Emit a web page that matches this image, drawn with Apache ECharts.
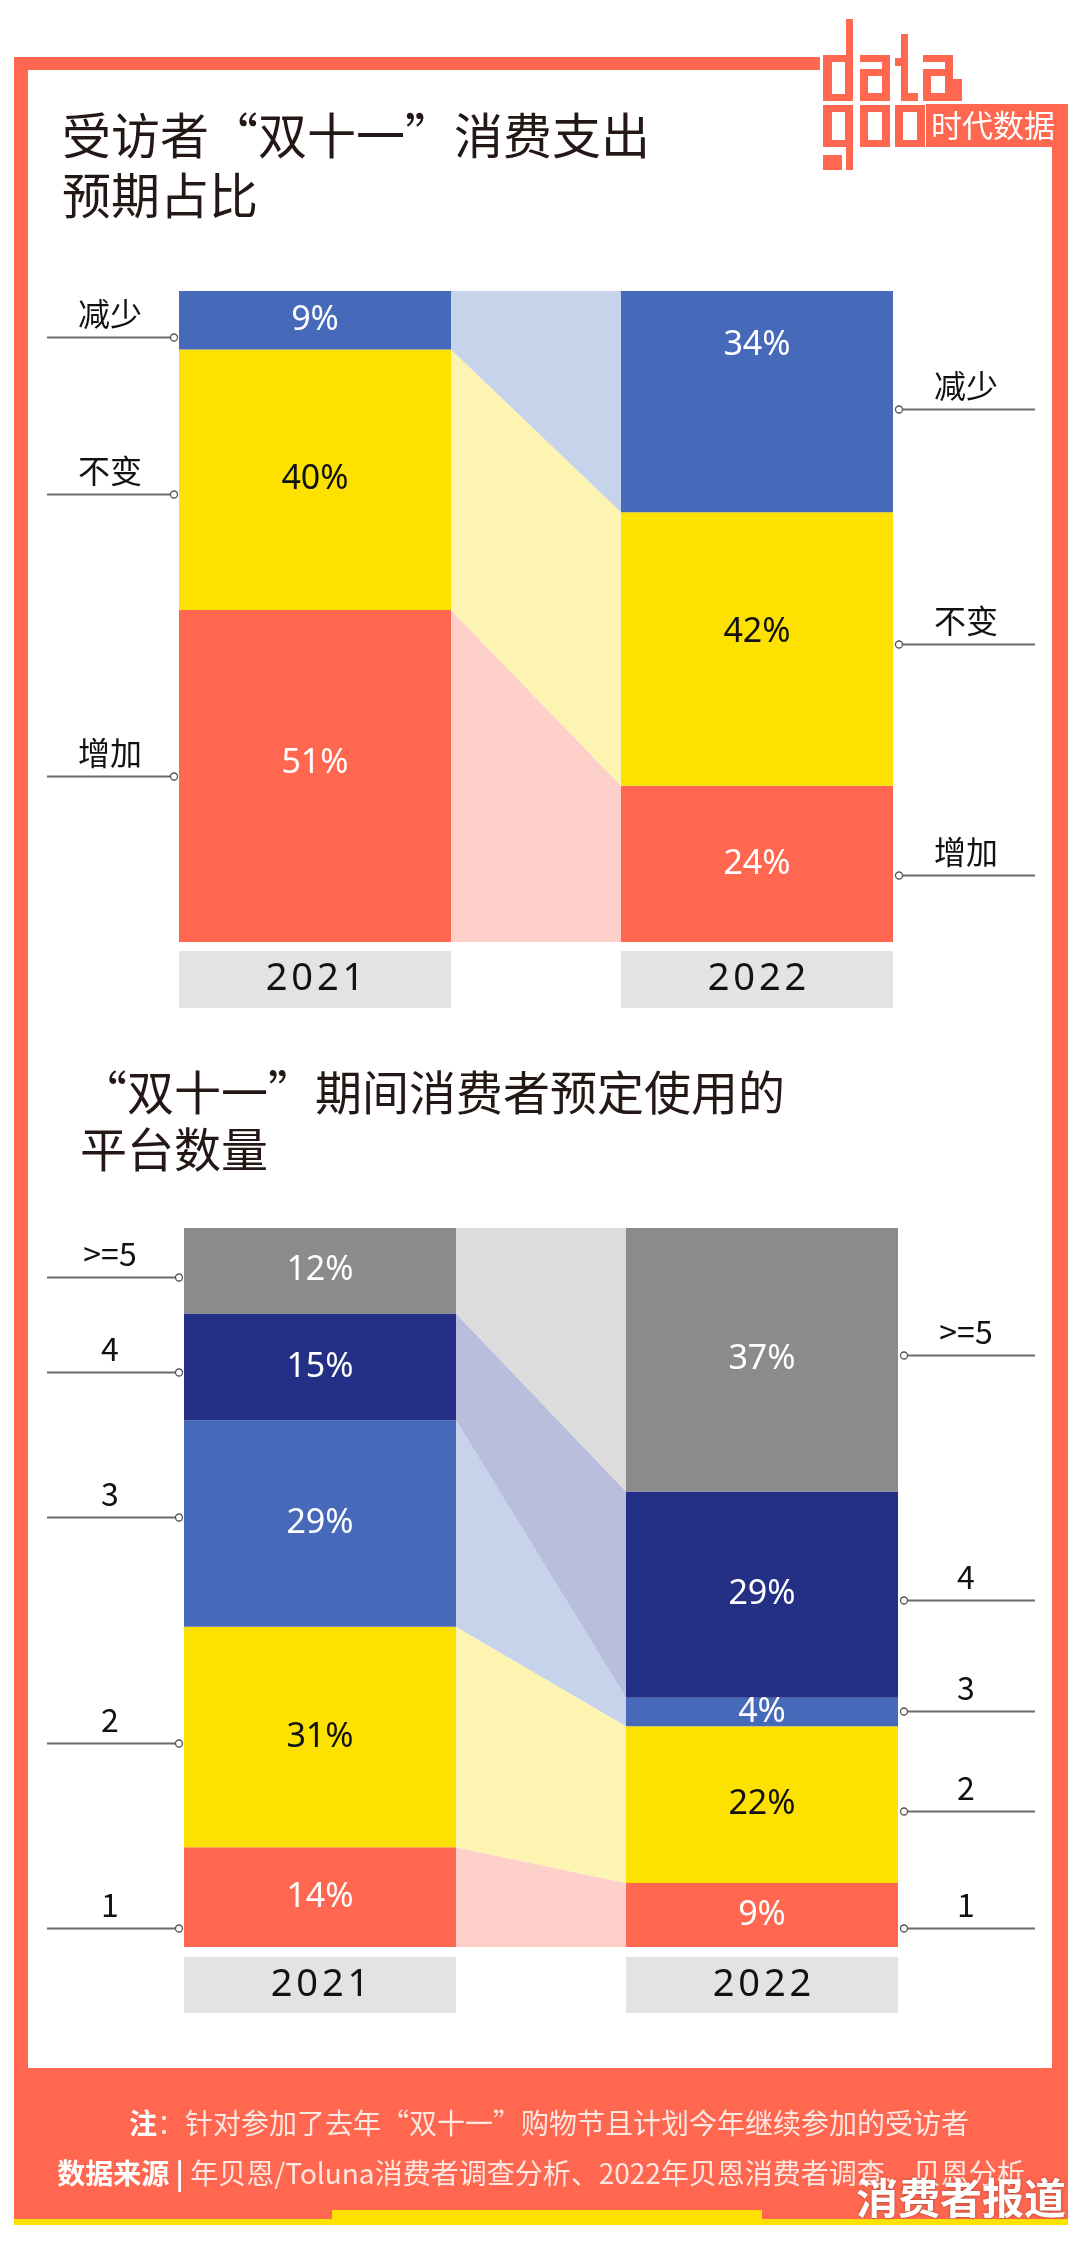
<!DOCTYPE html>
<html>
<head>
<meta charset="utf-8">
<script src="https://cdn.jsdelivr.net/npm/echarts@6/dist/echarts.min.js"></script>
<style>
  html, body { margin: 0; padding: 0; background: #fff; }
  #main { width: 1080px; height: 2241px; }
</style>
</head>
<body>
<div id="main"></div>
<script>
// ---- data ----
const years = ["2021", "2022"];

// chart 1, stacked bottom -> top
const spendNames = ["增加", "不变", "减少"];
const spend2021 = [51, 40, 9];
const spend2022 = [24, 42, 34];

// chart 2, stacked bottom -> top
const platformNames = ["1", "2", "3", "4", ">=5"];
const platform2021 = [14, 31, 29, 15, 12];
const platform2022 = [9, 22, 4, 29, 37];

// ---- styles ----
const FONT_CJK = '"Noto Sans CJK SC", "Noto Sans", sans-serif';
const FONT_NUM = '"Noto Sans", "Noto Sans CJK SC", sans-serif';
const ORANGE = "#ff6750";
const YELLOW = "#fde100";
const BLUE = "#4669b9";
const NAVY = "#233085";
const GREY = "#8b8b8b";
const BAR_W = 272;

const spendColors = [ORANGE, YELLOW, BLUE];
const spendBand = ["#fdd0c9", "#fef4b1", "#c6d3ea"];
const spendLabel = ["#fff", "#111", "#fff"];

const platformColors = [ORANGE, YELLOW, BLUE, NAVY, GREY];
const platformBand = ["#fdd0c9", "#fef4b1", "#c6d3eb", "#b9bedd", "#dcdcdc"];
const platformLabel = ["#fff", "#111", "#fff", "#fff", "#fff"];

// small pixel nudges for labels (layout only)
const pctNudge2021 = [-13, 0, 0];
const pctNudge2022 = [0, -17, -56];
const leaderNudge = {
  spendLeft: [0, 14, 17], spendRight: [11, -5, 7],
  platLeft: [31, 6, -6, 5, 6], platRight: [13, 6, -1, 5, -5]
};

const sum = arr => arr.reduce((s, v) => s + v, 0);

function barSeries(idx, names, a, b, colors, labelColors, nudgeA, nudgeB) {
  return names.map((n, i) => ({
    type: "bar",
    name: n,
    stack: "s" + idx,
    xAxisIndex: idx,
    yAxisIndex: idx,
    barWidth: BAR_W,
    silent: true,
    data: [
      { value: a[i], label: { offset: [0, nudgeA ? nudgeA[i] : 0] } },
      { value: b[i], label: { offset: [0, nudgeB ? nudgeB[i] : 0] } }
    ],
    itemStyle: { color: colors[i] },
    label: {
      show: true,
      position: "inside",
      formatter: "{c}%",
      color: labelColors[i],
      fontSize: 34,
      fontFamily: FONT_NUM
    }
  }));
}

// light bands linking the same category between the two bars
function bandSeries(idx, a, b, colors) {
  let data = [], ca = 0, cb = 0;
  a.forEach((v, i) => {
    data.push([0, ca, ca + v, cb, cb + b[i], i]);
    ca += v;
    cb += b[i];
  });
  return {
    type: "custom",
    xAxisIndex: idx,
    yAxisIndex: idx,
    silent: true,
    z: 1,
    encode: { x: 0, y: 1 },
    data: data,
    renderItem: function (params, api) {
      const half = BAR_W / 2;
      const l0 = api.coord([0, api.value(1)]), l1 = api.coord([0, api.value(2)]);
      const r0 = api.coord([1, api.value(3)]), r1 = api.coord([1, api.value(4)]);
      const xl = l0[0] + half, xr = r0[0] - half;
      return {
        type: "polygon",
        shape: { points: [[xl, l0[1]], [xr, r0[1]], [xr, r1[1]], [xl, l1[1]]] },
        style: { fill: colors[api.value(5)] }
      };
    }
  };
}

// category names with leader lines beside a bar
function sideSeries(idx, names, vals, side, nudge) {
  let data = [], c = 0;
  vals.forEach((v, i) => {
    data.push([side, c + v / 2, i]);
    c += v;
  });
  return {
    type: "custom",
    xAxisIndex: idx,
    yAxisIndex: idx,
    silent: true,
    z: 5,
    encode: { x: 0, y: 1 },
    data: data,
    renderItem: function (params, api) {
      const i = api.value(2);
      const p = api.coord([api.value(0), api.value(1)]);
      const half = BAR_W / 2;
      const y = Math.round(p[1] + nudge[i]) + 0.5;
      let cx, x2, tx;
      if (side === 0) { cx = p[0] - half - 5; x2 = 47; tx = 110; }
      else { cx = p[0] + half + 6; x2 = 1035; tx = 966; }
      return {
        type: "group",
        children: [
          { type: "line", shape: { x1: cx, y1: y, x2: x2, y2: y },
            style: { stroke: "#6b6b6b", lineWidth: 2 } },
          { type: "circle", shape: { cx: cx, cy: y, r: 3.5 },
            style: { fill: "#fff", stroke: "#555", lineWidth: 1.3 } },
          { type: "text",
            style: { text: names[i], x: tx, y: y - 24, align: "center",
                     verticalAlign: "middle", fontSize: 32, fontFamily: FONT_CJK, fill: "#111" } }
        ]
      };
    }
  };
}

function xAxisFor(i, margin, h) {
  return {
    type: "category",
    gridIndex: i,
    data: years,
    axisLine: { show: false },
    axisTick: { show: false },
    splitLine: { show: false },
    axisLabel: {
      margin: margin,
      color: "#111",
      fontSize: 38,
      fontWeight: "normal",
      fontFamily: FONT_NUM,
      backgroundColor: "#e3e3e3",
      width: BAR_W,
      height: h,
      lineHeight: h,
      align: "center",
      verticalAlign: "top",
      // slight letter spacing
      formatter: v => v.split("").join("\u200a")
    }
  };
}

function yAxisFor(i, total) {
  return { type: "value", gridIndex: i, min: 0, max: total, show: false, splitLine: { show: false } };
}

// logo blocks "data / good"
const logoBlocks = [
  [823, 55, 30, 46], [846, 19, 7, 40],                       // d
  [860, 55, 30, 46],                                         // a
  [901, 34, 7, 67], [895, 58, 8, 8], [901, 93, 17, 8],       // t
  [923, 55, 30, 46], [953, 79, 9, 22],                       // a
  [823, 105, 30, 42], [846, 147, 7, 23], [823, 155, 19, 15], // g
  [860, 105, 30, 42],                                        // o
  [895, 105, 30, 42]                                         // o
];
const logoHoles = [
  [832, 62, 13, 32],
  [860, 62, 22, 7], [868, 76, 14, 17],
  [923, 62, 22, 7], [931, 76, 14, 17],
  [832, 112, 13, 28], [868, 112, 14, 28], [903, 112, 14, 28]
];

const graphics = [
  { type: "rect", shape: { x: 14, y: 57, width: 1054, height: 2163 }, style: { fill: ORANGE } },
  { type: "rect", shape: { x: 28, y: 70, width: 1024, height: 1998 }, style: { fill: "#fff" } },
  { type: "rect", shape: { x: 820, y: 0, width: 260, height: 104 }, style: { fill: "#fff" } },
  { type: "rect", shape: { x: 14, y: 2219, width: 1054, height: 6 }, style: { fill: YELLOW } },
  { type: "rect", shape: { x: 332, y: 2210, width: 430, height: 15 }, style: { fill: YELLOW } }
];
logoBlocks.forEach(b => graphics.push({ type: "rect", shape: { x: b[0], y: b[1], width: b[2], height: b[3] }, style: { fill: ORANGE } }));
logoHoles.forEach(b => graphics.push({ type: "rect", shape: { x: b[0], y: b[1], width: b[2], height: b[3] }, style: { fill: "#fff" } }));
graphics.push(
  { type: "rect", shape: { x: 926, y: 104, width: 142, height: 43 }, style: { fill: ORANGE } },
  { type: "text", x: 993, y: 125,
    style: { text: "时代数据", fill: "#fff", fontSize: 31, fontFamily: FONT_CJK,
             align: "center", verticalAlign: "middle" } },
  { type: "text",
    style: { x: 549, y: 2123, align: "center", verticalAlign: "middle",
             text: "{b|注}{n|：针对参加了去年“双十一”购物节且计划今年继续参加的受访者}",
             rich: {
               b: { fontSize: 28, fontWeight: "bold", fill: "#fff", fontFamily: FONT_CJK },
               n: { fontSize: 28, fill: "#fde7e1", fontFamily: FONT_CJK }
             } } },
  { type: "text",
    style: { x: 541, y: 2173, align: "center", verticalAlign: "middle",
             text: "{b|数据来源 | }{n|年贝恩/Toluna消费者调查分析、2022年贝恩消费者调查、贝恩分析}",
             rich: {
               b: { fontSize: 28, fontWeight: "bold", fill: "#fff", fontFamily: FONT_CJK },
               n: { fontSize: 28, fill: "#fde7e1", fontFamily: FONT_CJK }
             } } },
  { type: "text",
    style: { x: 961, y: 2198, align: "center", verticalAlign: "middle", text: "消费者报道",
             fontSize: 42, fontWeight: "bold", fill: "#fff", fontFamily: FONT_CJK,
             textShadowColor: "rgba(0,0,0,0.35)", textShadowBlur: 3 } }
);

const chart = echarts.init(document.getElementById("main"), null, { renderer: "canvas" });
chart.setOption({
  backgroundColor: "#fff",
  animation: false,
  title: [
    { text: "受访者“双十一”消费支出\n预期占比", left: 62, top: 105, padding: 0,
      textStyle: { fontSize: 49, lineHeight: 60, fontWeight: "normal", color: "#231815", fontFamily: FONT_CJK } },
    { text: "“双十一”期间消费者预定使用的\n平台数量", left: 80, top: 1064, padding: 0,
      textStyle: { fontSize: 47, lineHeight: 57, fontWeight: "normal", color: "#231815", fontFamily: FONT_CJK } }
  ],
  graphic: graphics,
  grid: [
    { left: 94, top: 291, width: 884, height: 651, outerBoundsMode: "none" },
    { left: 99, top: 1228, width: 884, height: 719, outerBoundsMode: "none" }
  ],
  xAxis: [xAxisFor(0, 9, 57), xAxisFor(1, 10, 56)],
  yAxis: [yAxisFor(0, Math.max(sum(spend2021), sum(spend2022))),
          yAxisFor(1, Math.max(sum(platform2021), sum(platform2022)))],
  series: [].concat(
    barSeries(0, spendNames, spend2021, spend2022, spendColors, spendLabel, pctNudge2021, pctNudge2022),
    [bandSeries(0, spend2021, spend2022, spendBand),
     sideSeries(0, spendNames, spend2021, 0, leaderNudge.spendLeft),
     sideSeries(0, spendNames, spend2022, 1, leaderNudge.spendRight)],
    barSeries(1, platformNames, platform2021, platform2022, platformColors, platformLabel),
    [bandSeries(1, platform2021, platform2022, platformBand),
     sideSeries(1, platformNames, platform2021, 0, leaderNudge.platLeft),
     sideSeries(1, platformNames, platform2022, 1, leaderNudge.platRight)]
  )
});
</script>
</body>
</html>
